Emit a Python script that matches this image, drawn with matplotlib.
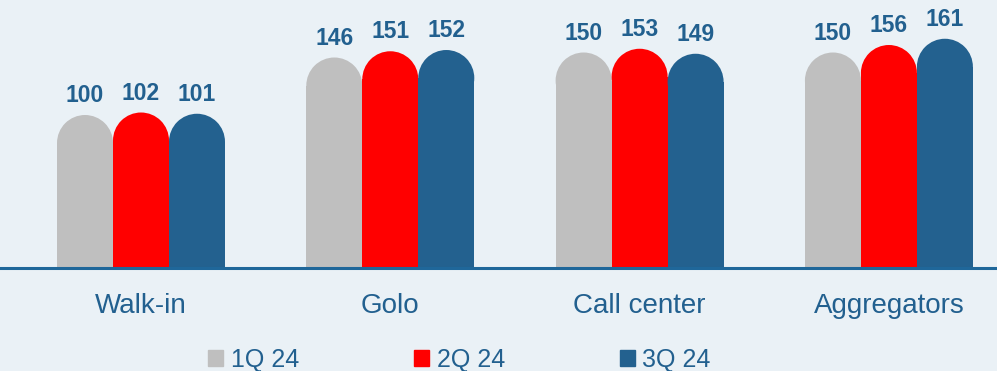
import matplotlib.pyplot as plt
from matplotlib.patches import Ellipse, Patch
import numpy as np

plt.rcParams["font.family"] = ["Liberation Sans", "DejaVu Sans"]

categories = ["Walk-in", "Golo", "Call center", "Aggregators"]
series = ["1Q 24", "2Q 24", "3Q 24"]
q1 = [100, 146, 150, 150]
q2 = [102, 151, 153, 156]
q3 = [101, 152, 149, 161]

BG = "#EAF1F6"
TXT = "#22608F"
COLORS = ["#BFBFBF", "#FF0000", "#23618F"]

fig = plt.figure(figsize=(9.97, 3.71), dpi=100, facecolor=BG)
ax = fig.add_axes([0, 103 / 371, 1, 268 / 371])
ax.set_facecolor(BG)
ax.set_xlim(-0.5656, 3.4336)
ax.set_ylim(0, 214.4)

x = np.arange(len(categories))
w = 0.2246
# radius of the round caps in y units (keep them circular in pixels)
px_x = 997 / (3.4336 + 0.5656)
px_y = 268 / 214.4
r_px = w * px_x / 2
cap_h = 2 * r_px / px_y

for i, vals in enumerate([q1, q2, q3]):
    xs = x + (i - 1) * w
    ax.bar(xs, vals, width=w, color=COLORS[i], zorder=2)
    for xx, v in zip(xs, vals):
        ax.add_patch(Ellipse((xx, v), w, cap_h, color=COLORS[i], zorder=2, lw=0))
        ax.annotate(str(v), (xx, v), xytext=(0, r_px + 8), textcoords="offset pixels",
                    ha="center", va="bottom", fontsize=16.5, fontweight="bold", color=TXT)

ax.axhline(0, color="#1F679A", lw=2.2, zorder=3, clip_on=False)
for s in ax.spines.values():
    s.set_visible(False)
ax.set_yticks([])
ax.set_xticks(x)
ax.set_xticklabels(categories, fontsize=20, color=TXT)
ax.tick_params(axis="x", length=0, pad=18)

handles = [Patch(color=c, label=s) for c, s in zip(COLORS, series)]
leg = fig.legend(handles=handles, loc="center", bbox_to_anchor=(0.461, 0.03), ncol=3,
                 frameon=False, fontsize=18, handlelength=0.6, handleheight=0.6,
                 handletextpad=0.3, columnspacing=4.6, borderpad=0)
for t in leg.get_texts():
    t.set_color(TXT)

fig.savefig("out.png", facecolor=BG)
